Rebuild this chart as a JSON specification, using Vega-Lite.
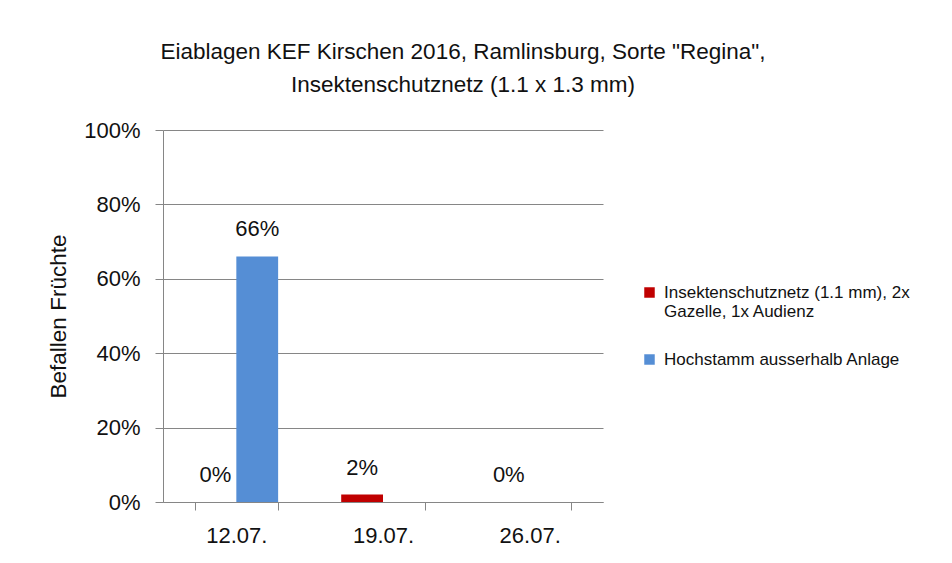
{
  "$schema": "https://vega.github.io/schema/vega-lite/v6.json",
  "width": 440,
  "height": 372,
  "autosize": {"type": "none"},
  "padding": {"left": 163, "top": 130, "right": 349, "bottom": 61},
  "background": "white",
  "config": {"view": {"stroke": null}},
  "title": {
    "text": ["Eiablagen KEF Kirschen 2016, Ramlinsburg, Sorte \"Regina\",", "Insektenschutznetz (1.1  x 1.3 mm)"],
    "fontSize": 22.5,
    "font": "Liberation Sans",
    "fontWeight": "normal",
    "color": "#111",
    "anchor": "middle",
    "dx": 80,
    "offset": 23,
    "lineHeight": 33
  },
  "data": {
    "values": [
      {"datum": "12.07.", "serie": "Insektenschutznetz (1.1 mm), 2x Gazelle, 1x Audienz", "wert": 0},
      {"datum": "12.07.", "serie": "Hochstamm ausserhalb Anlage", "wert": 0.66},
      {"datum": "19.07.", "serie": "Insektenschutznetz (1.1 mm), 2x Gazelle, 1x Audienz", "wert": 0.02},
      {"datum": "19.07.", "serie": "Hochstamm ausserhalb Anlage", "wert": null},
      {"datum": "26.07.", "serie": "Insektenschutznetz (1.1 mm), 2x Gazelle, 1x Audienz", "wert": 0},
      {"datum": "26.07.", "serie": "Hochstamm ausserhalb Anlage", "wert": null}
    ]
  },
  "transform": [{"filter": "datum.wert != null"}],
  "encoding": {
    "x": {
      "field": "datum",
      "type": "nominal",
      "sort": null,
      "scale": {"paddingInner": 0.43, "paddingOuter": 0.215},
      "axis": {
        "title": null,
        "labelAngle": 0,
        "labelFontSize": 22,
        "labelFont": "Liberation Sans",
        "labelColor": "#111",
        "labelPadding": 15,
        "tickBand": "extent",
        "tickSize": 8,
        "tickColor": "#868686",
        "domainColor": "#868686",
        "grid": false
      }
    },
    "xOffset": {
      "field": "serie",
      "type": "nominal",
      "sort": ["Insektenschutznetz (1.1 mm), 2x Gazelle, 1x Audienz", "Hochstamm ausserhalb Anlage"],
      "scale": {"domain": ["Insektenschutznetz (1.1 mm), 2x Gazelle, 1x Audienz", "Hochstamm ausserhalb Anlage"], "paddingInner": 0, "paddingOuter": 0}
    },
    "y": {
      "field": "wert",
      "type": "quantitative",
      "scale": {"domain": [0, 1]},
      "axis": {
        "title": "Befallen Früchte",
        "titleFontSize": 22.5,
        "titleFont": "Liberation Sans",
        "titleFontWeight": "normal",
        "titleColor": "#111",
        "titlePadding": 13,
        "format": ".0%",
        "values": [0, 0.2, 0.4, 0.6, 0.8, 1],
        "labelFontSize": 22,
        "labelFont": "Liberation Sans",
        "labelColor": "#111",
        "labelPadding": 15,
        "tickSize": 8,
        "tickColor": "#868686",
        "domainColor": "#868686",
        "gridColor": "#868686",
        "gridWidth": 1
      }
    }
  },
  "layer": [
    {
      "mark": {"type": "bar"},
      "encoding": {
        "color": {
          "field": "serie",
          "type": "nominal",
          "scale": {"domain": ["Insektenschutznetz (1.1 mm), 2x Gazelle, 1x Audienz", "Hochstamm ausserhalb Anlage"], "range": ["#C00000", "#558ED5"]},
          "legend": {
            "title": null,
            "orient": "none",
            "legendX": 478,
            "legendY": 154,
            "symbolType": "square",
            "symbolSize": 110,
            "symbolStrokeWidth": 0,
            "labelFontSize": 17,
            "labelFont": "Liberation Sans",
            "labelColor": "#111",
            "labelLimit": 400,
            "labelOffset": 6,
            "rowPadding": 30,
            "labelExpr": "datum.label == 'Hochstamm ausserhalb Anlage' ? datum.label : ['Insektenschutznetz (1.1 mm), 2x', 'Gazelle, 1x Audienz']"
          }
        }
      }
    },
    {
      "mark": {"type": "text", "baseline": "middle", "dy": -27, "fontSize": 22, "font": "Liberation Sans", "color": "#111"},
      "encoding": {
        "text": {"field": "wert", "type": "quantitative", "format": ".0%"}
      }
    }
  ]
}
